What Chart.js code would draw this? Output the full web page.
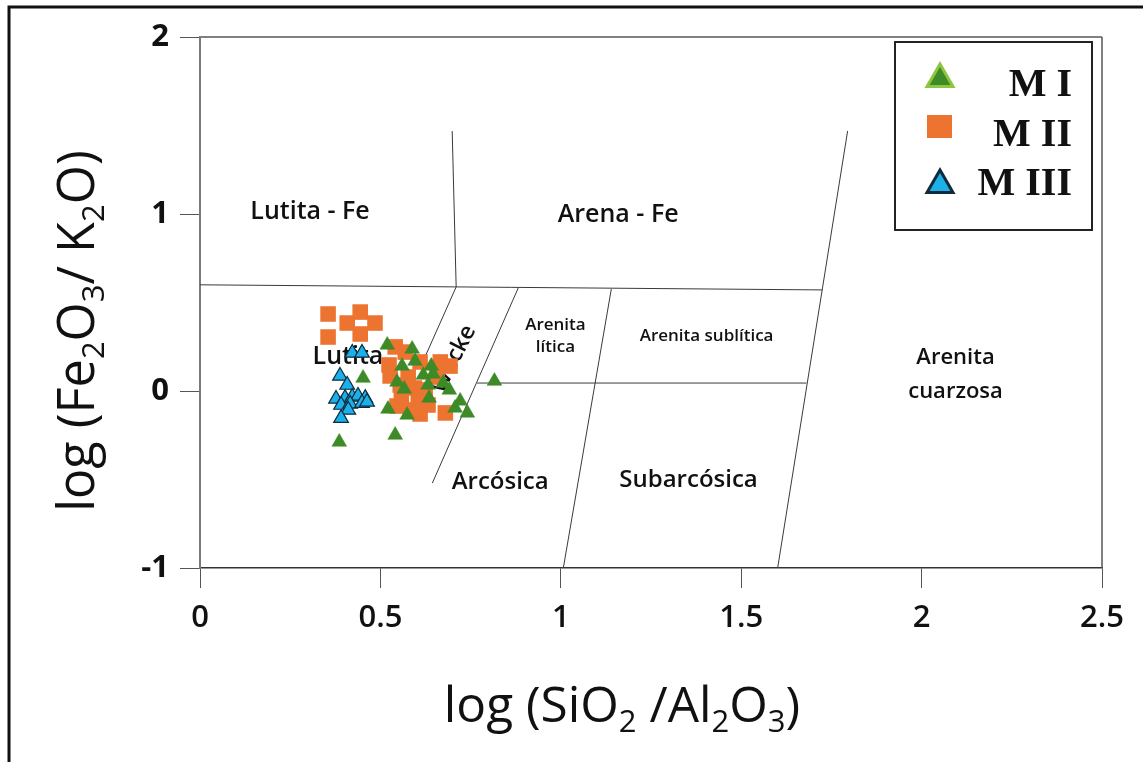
<!DOCTYPE html>
<html>
<head>
<meta charset="utf-8">
<script src="https://cdn.jsdelivr.net/npm/chart.js@4.4.1/dist/chart.umd.min.js"></script>
<style>
  html, body { margin: 0; padding: 0; background: #fff; }
  #wrap { width: 1143px; height: 762px; position: relative; }
  canvas { display: block; }
</style>
</head>
<body>
<div id="wrap"><canvas id="c" width="1143" height="762"></canvas></div>
<script>
// Axis ranges and tick values
const xTicks = [0, 0.5, 1, 1.5, 2, 2.5];
const yTicks = [-1, 0, 1, 2];

// Series M I  (log SiO2/Al2O3, log Fe2O3/K2O)
const m1X = [0.519, 0.588, 0.596, 0.560, 0.641, 0.646, 0.619, 0.546, 0.566, 0.632, 0.674, 0.691,
             0.635, 0.721, 0.707, 0.741, 0.521, 0.574, 0.452, 0.541, 0.386, 0.816];
const m1Y = [0.260, 0.237, 0.169, 0.141, 0.141, 0.096, 0.090, 0.051, 0.011, 0.034, 0.045, 0.006,
             -0.040, -0.056, -0.096, -0.124, -0.102, -0.136, 0.073, -0.249, -0.288, 0.056];

// Series M II
const m2X = [0.355, 0.355, 0.444, 0.408, 0.485, 0.444,
             0.541, 0.569, 0.524, 0.527, 0.610, 0.666, 0.693, 0.577, 0.657, 0.594, 0.558,
             0.605, 0.546, 0.583, 0.610, 0.632, 0.680, 0.624, 0.555];
const m2Y = [0.435, 0.305, 0.446, 0.384, 0.384, 0.322,
             0.249, 0.220, 0.147, 0.085, 0.164, 0.164, 0.141, 0.079, 0.079, 0.017, -0.040,
             -0.051, -0.085, -0.107, -0.130, -0.079, -0.124, 0.006, 0.034];

// Series M III
const m3X = [0.422, 0.449, 0.388, 0.408, 0.377, 0.402, 0.422, 0.438, 0.458, 0.391, 0.416, 0.449,
             0.463, 0.411, 0.391];
const m3Y = [0.215, 0.215, 0.085, 0.034, -0.045, -0.040, -0.034, -0.028, -0.040, -0.079, -0.073,
             -0.068, -0.062, -0.107, -0.153];

// Field boundaries of the classification diagram, as [x, y] vertices
const edgeShaleFe    = [[0, 0.600], [1.725, 0.571]];
const edgeFeSplit    = [[0.699, 1.469], [0.710, 0.588]];
const edgeWackeLeft  = [[0.710, 0.588], [0.610, 0.130]];
const edgeWackeRight = [[0.882, 0.582], [0.644, -0.520]];
const edgeLowerSplit = [[0.768, 0.045], [1.681, 0.045]];
const edgeLithic     = [[1.140, 0.576], [1.007, -1.000]];
const edgeQuartz     = [[1.795, 1.469], [1.601, -1.000]];

// Field names with their anchor (data units) and font size
const fieldNames = ['Lutita - Fe', 'Arena - Fe', 'Lutita', 'Arenita', 'lítica', 'Arenita sublítica',
                    'Arenita', 'cuarzosa', 'Arcósica', 'Subarcósica'];
const fieldX = [0.305, 1.159, 0.410, 0.985, 0.985, 1.404, 2.094, 2.094, 0.832, 1.354];
const fieldY = [1.011, 0.994, 0.192, 0.373, 0.249, 0.311, 0.186, -0.006, -0.514, -0.503];
const fieldSize = [25, 25, 25, 17, 17, 17, 22, 22, 24, 24];

const seriesNames = ['M I', 'M II', 'M III'];

const toPts = (xs, ys) => xs.map((x, i) => ({ x: x, y: ys[i] }));
const toLine = (arr) => arr.map(p => ({ x: p[0], y: p[1] }));

const SANS = '"Open Sans", "Noto Sans", sans-serif';

const GREEN = '#3d8a27', GREEN_EDGE = '#8dc63f';
const ORANGE = '#ed7331';
const BLUE = '#1bb0ea', BLUE_EDGE = '#0f2b3b';

const boundaryStyle = {
  showLine: true, pointRadius: 0, pointHoverRadius: 0,
  borderColor: '#3a3a3a', borderWidth: 1, fill: false
};

// Measure a string made of normal and subscript runs
function richParts(ctx, parts, size) {
  let w = 0;
  parts.forEach(p => {
    ctx.font = (p.sub ? Math.round(size * 0.62) : size) + 'px ' + SANS;
    p.w = ctx.measureText(p.t).width;
    w += p.w;
  });
  return w;
}
// Draw it centred on (cx, cy), sized to the given width
function drawRich(ctx, parts, cx, cy, size, targetW, angle) {
  let w = richParts(ctx, parts, size);
  const s = size * targetW / w;
  w = richParts(ctx, parts, s);
  ctx.save();
  ctx.translate(cx, cy);
  ctx.rotate(angle);
  ctx.fillStyle = '#111';
  ctx.textBaseline = 'alphabetic';
  ctx.textAlign = 'left';
  let x = -w / 2;
  parts.forEach(p => {
    ctx.font = (p.sub ? Math.round(s * 0.62) : s) + 'px ' + SANS;
    ctx.fillText(p.t, x, p.sub ? s * 0.2 : 0);
    x += p.w;
  });
  ctx.restore();
}

const diagramDecor = {
  id: 'diagramDecor',
  beforeDraw(chart) {
    const ctx = chart.ctx;
    ctx.save();
    ctx.fillStyle = '#fff';
    ctx.fillRect(0, 0, chart.width, chart.height);
    // page frame
    ctx.strokeStyle = '#111';
    ctx.lineWidth = 3;
    ctx.beginPath();
    ctx.moveTo(9, chart.height + 5);
    ctx.lineTo(9, 7);
    ctx.lineTo(chart.width + 5, 7);
    ctx.stroke();
    ctx.restore();
  },
  beforeDatasetsDraw(chart) {
    const ctx = chart.ctx;
    const xs = chart.scales.x, ys = chart.scales.y;
    const a = chart.chartArea;
    ctx.save();
    // top and right edges of the plot box
    ctx.strokeStyle = '#808080';
    ctx.lineWidth = 2;
    ctx.beginPath();
    ctx.moveTo(a.left, a.top);
    ctx.lineTo(a.right, a.top);
    ctx.stroke();
    ctx.strokeStyle = '#555';
    ctx.lineWidth = 1.5;
    ctx.beginPath();
    ctx.moveTo(a.right, a.top);
    ctx.lineTo(a.right, a.bottom);
    ctx.stroke();

    // field names
    ctx.fillStyle = '#111';
    ctx.textAlign = 'center';
    ctx.textBaseline = 'middle';
    fieldNames.forEach((t, i) => {
      ctx.font = '600 ' + fieldSize[i] + 'px ' + SANS;
      ctx.fillText(t, xs.getPixelForValue(fieldX[i]), ys.getPixelForValue(fieldY[i]));
    });
    // rotated field name inside the narrow band
    ctx.save();
    ctx.translate(xs.getPixelForValue(0.703), ys.getPixelForValue(0.180));
    ctx.rotate(-63 * Math.PI / 180);
    ctx.font = '600 23px ' + SANS;
    ctx.fillText('Wacke', 0, 0);
    ctx.restore();
    ctx.restore();
  },
  afterDraw(chart) {
    const ctx = chart.ctx;
    // axis titles with chemical subscripts
    drawRich(ctx, [{ t: 'log (SiO' }, { t: '2', sub: true }, { t: ' /Al' }, { t: '2', sub: true },
                   { t: 'O' }, { t: '3', sub: true }, { t: ')' }],
             622, 722, 50, 356, 0);
    drawRich(ctx, [{ t: 'log (Fe' }, { t: '2', sub: true }, { t: 'O' }, { t: '3', sub: true },
                   { t: '/ K' }, { t: '2', sub: true }, { t: 'O)' }],
             94, 331, 50, 362, -Math.PI / 2);

    // legend box
    ctx.save();
    ctx.strokeStyle = '#222';
    ctx.lineWidth = 2;
    ctx.fillStyle = '#fff';
    ctx.fillRect(895, 42, 197, 188);
    ctx.strokeRect(895, 42, 197, 188);
    const tri = (cx, cy, r, fill, edge, lw) => {
      ctx.beginPath();
      for (let k = 0; k < 3; k++) {
        const ang = k * 2 * Math.PI / 3;
        const px = cx + Math.sin(ang) * r, py = cy - Math.cos(ang) * r;
        if (k === 0) ctx.moveTo(px, py); else ctx.lineTo(px, py);
      }
      ctx.closePath();
      ctx.fillStyle = fill; ctx.fill();
      ctx.strokeStyle = edge; ctx.lineWidth = lw; ctx.stroke();
    };
    tri(940, 79, 15, GREEN, GREEN_EDGE, 3);
    ctx.fillStyle = ORANGE;
    ctx.fillRect(927, 115, 25, 23);
    tri(940, 185, 15, BLUE, BLUE_EDGE, 3);
    ctx.fillStyle = '#111';
    ctx.font = 'bold 40px "Liberation Serif", "DejaVu Serif", serif';
    ctx.textAlign = 'right';
    ctx.textBaseline = 'alphabetic';
    ctx.fillText(seriesNames[0], 1072, 96);
    ctx.fillText(seriesNames[1], 1072, 146);
    ctx.fillText(seriesNames[2], 1072, 195);
    ctx.restore();
  }
};

new Chart(document.getElementById('c'), {
  type: 'scatter',
  data: {
    datasets: [
      { label: seriesNames[0], data: toPts(m1X, m1Y), pointStyle: 'triangle', pointRadius: 8.5,
        backgroundColor: GREEN, borderColor: GREEN, borderWidth: 0.5 },
      { label: seriesNames[1], data: toPts(m2X, m2Y), pointStyle: 'rect', pointRadius: 11,
        backgroundColor: ORANGE, borderColor: ORANGE, borderWidth: 0 },
      { label: seriesNames[2], data: toPts(m3X, m3Y), pointStyle: 'triangle', pointRadius: 8.5,
        backgroundColor: BLUE, borderColor: BLUE_EDGE, borderWidth: 1.2 },
      Object.assign({ data: toLine(edgeShaleFe) }, boundaryStyle),
      Object.assign({ data: toLine(edgeFeSplit) }, boundaryStyle),
      Object.assign({ data: toLine(edgeWackeLeft) }, boundaryStyle),
      Object.assign({ data: toLine(edgeWackeRight) }, boundaryStyle),
      Object.assign({ data: toLine(edgeLowerSplit) }, boundaryStyle),
      Object.assign({ data: toLine(edgeLithic) }, boundaryStyle),
      Object.assign({ data: toLine(edgeQuartz) }, boundaryStyle)
    ]
  },
  options: {
    responsive: false,
    animation: false,
    devicePixelRatio: 1,
    layout: { padding: { top: 37, right: 41, left: 0, bottom: 0 } },
    plugins: { legend: { display: false }, tooltip: { enabled: false }, title: { display: false } },
    events: [],
    scales: {
      x: {
        type: 'linear', min: 0, max: 2.5,
        afterFit(s) { s.height = 194; },
        afterBuildTicks(s) { s.ticks = xTicks.map(v => ({ value: v })); },
        ticks: { color: '#111', padding: 12, callback: v => String(v),
                 font: { family: SANS, size: 31, weight: '600' } },
        grid: { drawOnChartArea: false, drawTicks: true, tickLength: 20, color: '#555', lineWidth: 1 },
        border: { display: true, color: '#333', width: 1.5 }
      },
      y: {
        type: 'linear', min: -1, max: 2,
        afterFit(s) { s.width = 200; },
        afterBuildTicks(s) { s.ticks = yTicks.map(v => ({ value: v })); },
        ticks: { color: '#111', padding: 11, callback: v => String(v),
                 font: { family: SANS, size: 31, weight: '700' } },
        grid: { drawOnChartArea: false, drawTicks: true, tickLength: 20, color: '#555', lineWidth: 1 },
        border: { display: true, color: '#7a7a7a', width: 2 }
      }
    }
  },
  plugins: [diagramDecor]
});
</script>
</body>
</html>
